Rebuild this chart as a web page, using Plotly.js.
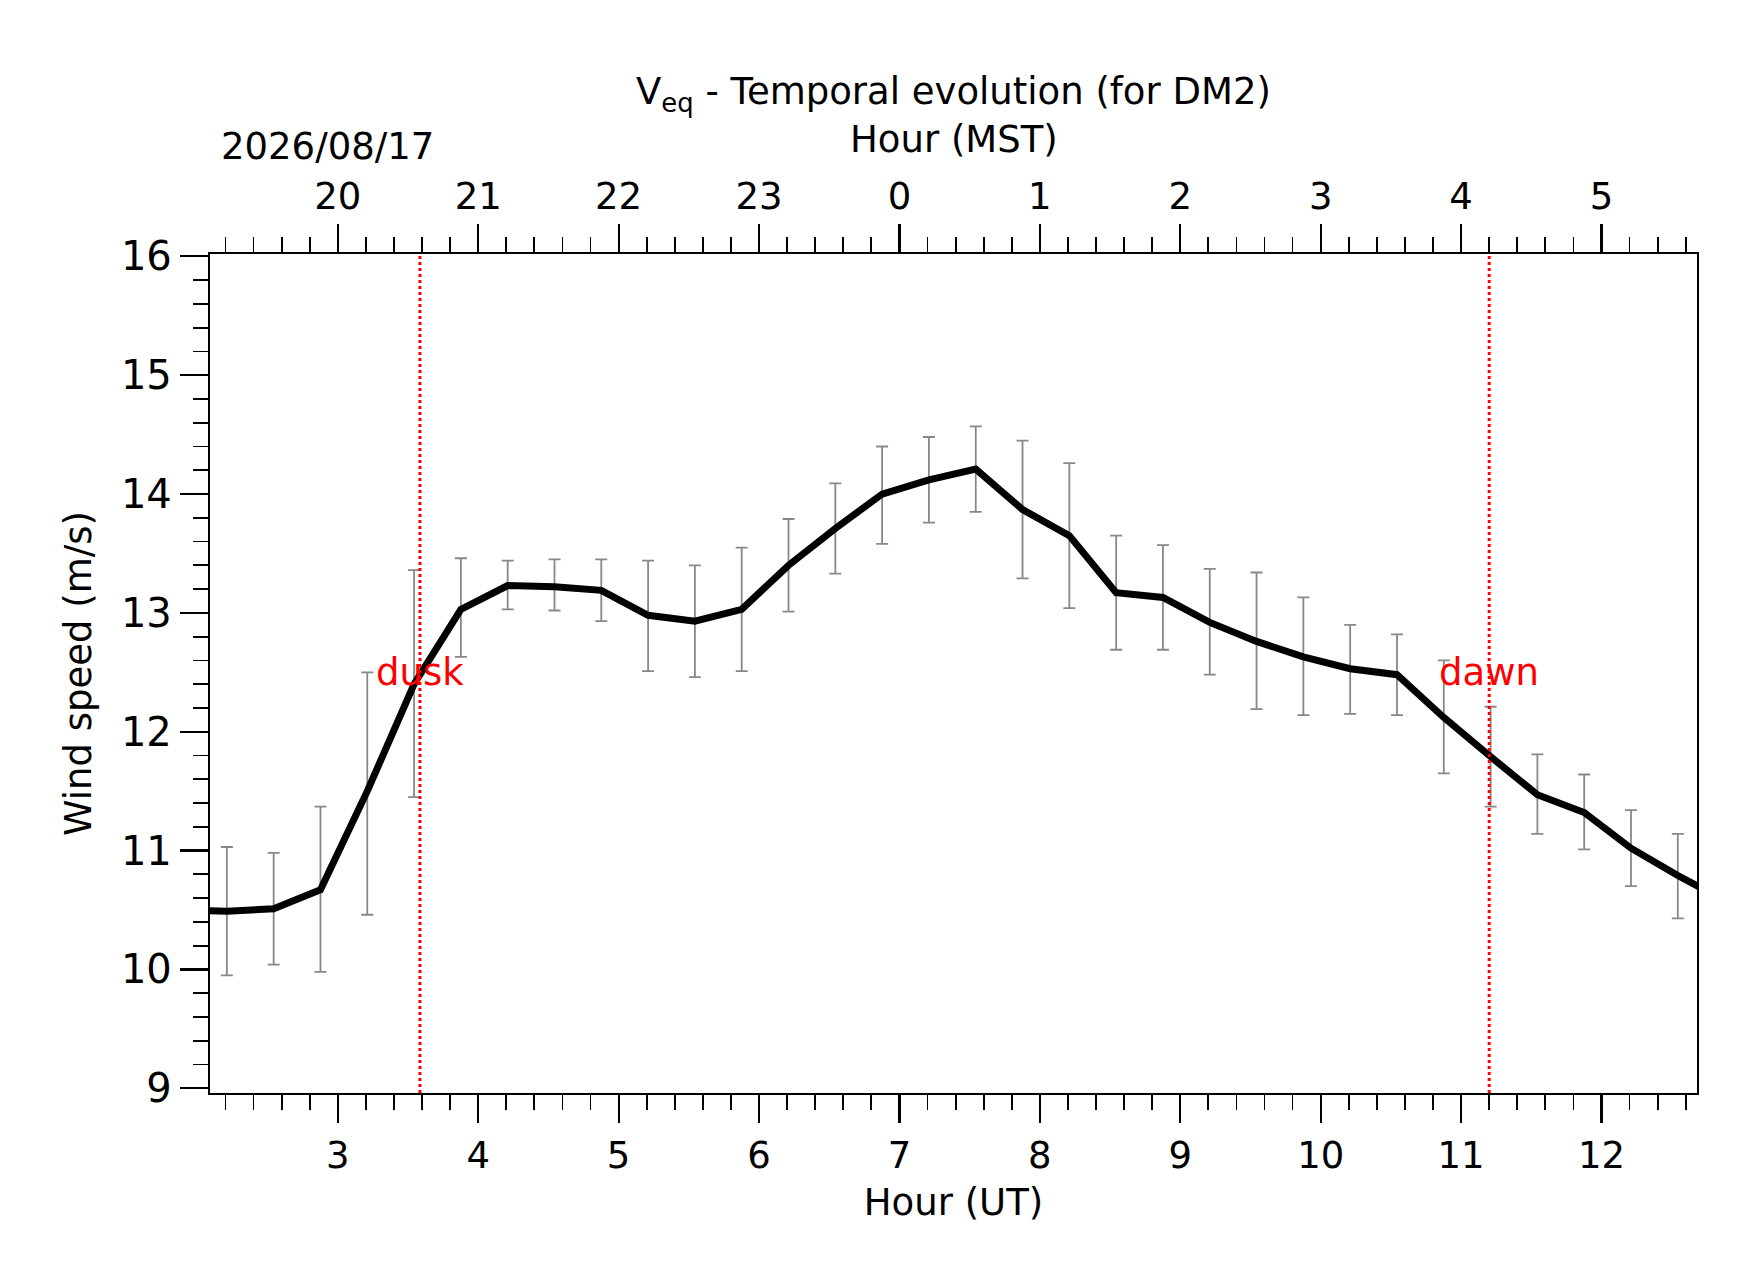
<!DOCTYPE html>
<html><head><meta charset="utf-8">
<script src="https://cdn.plot.ly/plotly-3.0.1.min.js"></script>
<style>body{margin:0;background:#fff}</style></head>
<body><div id="c" style="width:1742px;height:1282px"></div>
<script>
const t0 = 2.21, step = 1/3;
const speed = [10.49,10.51,10.67,11.5,12.4,13.03,13.23,13.22,13.19,12.98,12.93,13.03,13.4,13.71,14.0,14.12,14.21,13.87,13.65,13.17,13.13,12.92,12.76,12.63,12.53,12.48,12.12,11.79,11.47,11.32,11.02,10.79];
const upper = [11.03,10.98,11.37,12.50,13.36,13.46,13.44,13.45,13.45,13.44,13.40,13.55,13.79,14.09,14.40,14.48,14.57,14.45,14.26,13.65,13.57,13.37,13.34,13.13,12.90,12.82,12.60,12.21,11.81,11.64,11.34,11.14];
const lower = [9.95,10.04,9.98,10.46,11.45,12.63,13.03,13.02,12.93,12.51,12.46,12.51,13.01,13.33,13.58,13.76,13.85,13.29,13.04,12.69,12.69,12.48,12.19,12.14,12.15,12.14,11.65,11.37,11.14,11.01,10.70,10.43];
const edgeX = [1.877, 12.877], edgeY = [10.50, 10.58];
const duskUT = 3.585, dawnUT = 11.20;
const utTicks = [3,4,5,6,7,8,9,10,11,12];
const mstLabels = ['20','21','22','23','0','1','2','3','4','5'];
const times = speed.map((_, i) => t0 + i*step);
const lineX = [edgeX[0], ...times, edgeX[1]];
const lineY = [edgeY[0], ...speed, edgeY[1]];
const xr = [2.09, 12.68], yr = [8.96, 16.02];
const traces = [
 {x: times, y: speed, mode:'markers', marker:{size:0.1,color:'rgba(0,0,0,0)'},
  error_y:{type:'data', symmetric:false, array: upper.map((u,i)=>u-speed[i]), arrayminus: lower.map((l,i)=>speed[i]-l), color:'#888', thickness:1.8, width:6}, showlegend:false, hoverinfo:'skip'},
 {x: lineX, y: lineY, mode:'lines', line:{color:'black', width:7}, showlegend:false},
 {x: [xr[0]], y:[yr[0]], xaxis:'x2', mode:'markers', marker:{opacity:0}, showlegend:false}
];
const font = {family:'DejaVu Sans', color:'black'};
const minorX = {dtick:0.2, tick0:0, ticks:'outside', ticklen:15, tickwidth:1.8, tickcolor:'black'};
const layout = {
 margin:{l:210, r:45, t:254, b:189}, plot_bgcolor:'white', paper_bgcolor:'white',
 font: Object.assign({size:36}, font),
 xaxis:{range:xr, tickvals:utTicks, ticks:'outside', ticklen:28, tickwidth:2.2, tickcolor:'black',
   minor:minorX, showgrid:false, zeroline:false, showline:true, linecolor:'black', linewidth:2.2, mirror:false,
   tickfont:{size:37}, title:{text:'Hour (UT)', font:{size:37}, standoff:14}},
 xaxis2:{overlaying:'x', side:'top', range:xr, tickvals:utTicks, ticktext:mstLabels, ticks:'outside', ticklen:28, tickwidth:2.2, tickcolor:'black',
   minor:minorX, showgrid:false, zeroline:false, showline:true, linecolor:'black', linewidth:2.2, tickfont:{size:37}},
 yaxis:{range:yr, dtick:1, ticks:'outside', ticklen:28, tickwidth:2.2, tickcolor:'black',
   minor:{dtick:0.2, ticks:'outside', ticklen:15, tickwidth:1.8, tickcolor:'black'},
   showgrid:false, zeroline:false, showline:true, linecolor:'black', linewidth:2.2, mirror:true,
   tickfont:{size:40}, title:{text:'Wind speed (m/s)', font:{size:37}, standoff:18}},
 shapes:[
  {type:'line', x0:duskUT, x1:duskUT, yref:'paper', y0:0, y1:1, line:{color:'red', width:3, dash:'dot'}},
  {type:'line', x0:dawnUT, x1:dawnUT, yref:'paper', y0:0, y1:1, line:{color:'red', width:3, dash:'dot'}}
 ],
 annotations:[
  {x:duskUT, y:12.5, text:'dusk', showarrow:false, xanchor:'center', font:{size:37, color:'red', family:'DejaVu Sans'}},
  {x:dawnUT, y:12.5, text:'dawn', showarrow:false, xanchor:'center', font:{size:37, color:'red', family:'DejaVu Sans'}},
  {xref:'paper', yref:'paper', x:0.5, y:1.222, xanchor:'center', text:'V<sub>eq</sub> - Temporal evolution (for DM2)', showarrow:false, font:{size:37}},
  {xref:'paper', yref:'paper', x:0.5, y:1.164, xanchor:'center', text:'Hour (MST)', showarrow:false, font:{size:37}},
  {xref:'paper', yref:'paper', x:0.079, y:1.156, xanchor:'center', text:'2026/08/17', showarrow:false, font:{size:37}}
 ]
};
Plotly.newPlot('c', traces, layout, {staticPlot:true});
</script></body></html>
